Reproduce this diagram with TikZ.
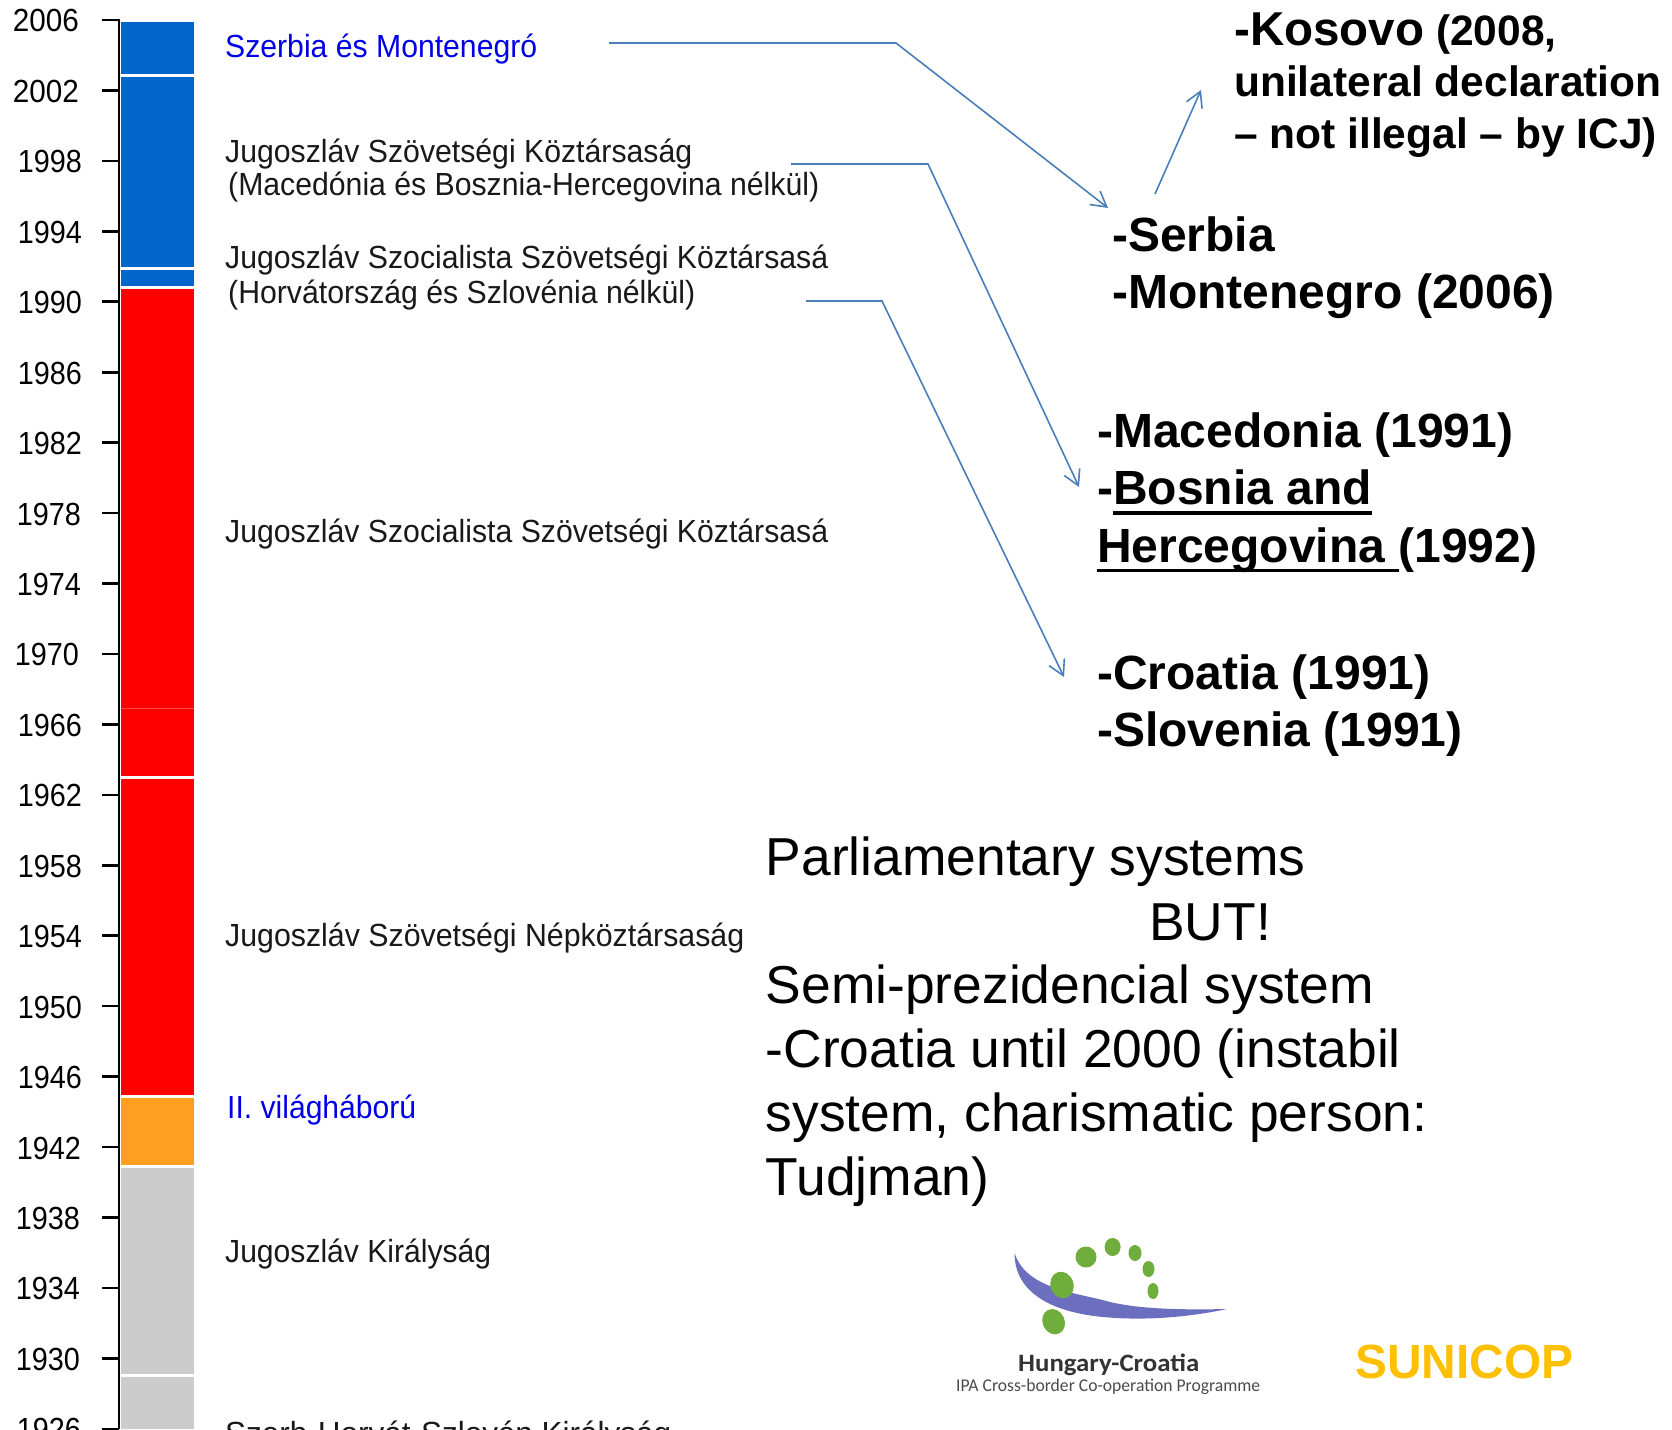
\documentclass[tikz,border=0pt]{standalone}
\usepackage{graphicx}
\usepackage{fontspec}
\setmainfont{Liberation Sans}
\newfontfamily\logofont{Carlito}
\usetikzlibrary{arrows.meta}
\definecolor{barblue}{HTML}{0066CC}
\definecolor{barorange}{HTML}{FF9F21}
\definecolor{bargrey}{HTML}{CCCCCC}
\definecolor{labelblue}{HTML}{0000E6}
\definecolor{linkblue}{HTML}{4A7EBB}
\definecolor{logoblue}{HTML}{6C6FC0}
\definecolor{logogreen}{HTML}{6FAE3C}
\definecolor{sunicop}{HTML}{FFC000}
\newcommand{\fitw}[2]{\resizebox{#1pt}{\height}{#2}}
\newcommand{\ulbox}[1]{\setbox0\hbox{#1}\rlap{\rule[-10pt]{\wd0}{3.6pt}}\box0 }
\tikzset{
  yearlabel/.style={anchor=base east,inner sep=0pt,font=\fontsize{32}{32}\selectfont},
  tl/.style={anchor=base west,inner sep=0pt,font=\fontsize{32}{32}\selectfont,text=black!90},
  tlblue/.style={tl,text=labelblue},
  bigbold/.style={anchor=north west,inner sep=0pt,align=left,font=\fontsize{48}{57.5}\selectfont\bfseries},
  plain/.style={anchor=north west,inner sep=0pt,align=left,font=\fontsize{53.4}{64}\selectfont},
  link/.style={draw=linkblue,line width=1.6pt,-{Straight Barb[length=15pt,width=17pt,line width=1.6pt]}},
  gap/.style={white,line width=3pt},
  dot/.style={fill=logogreen,draw=none}
}
\begin{document}
\begin{tikzpicture}[x=1pt,y=-1pt]
\useasboundingbox (0,0) rectangle (1672,1429);
\fill[white] (0,0) rectangle (1672,1429);
% bar
\fill[barblue] (120.5,22) rectangle (194,287);
\fill[red] (120.5,287) rectangle (194,1096);
\fill[barorange] (120.5,1096) rectangle (194,1166);
\fill[bargrey] (120.5,1166) rectangle (194,1429);
\draw[gap] (120.5,75.5) -- (194,75.5);
\draw[gap] (120.5,268) -- (194,268);
\draw[gap] (120.5,287) -- (194,287);
\draw[gap] (120.5,777.5) -- (194,777.5);
\draw[gap] (120.5,1096.5) -- (194,1096.5);
\draw[gap] (120.5,1166) -- (194,1166);
\draw[gap] (120.5,1375) -- (194,1375);
\draw[red!70!white,line width=.8pt] (120.5,708.5) -- (194,708.5);
% axis
\draw[black,line width=2.8pt] (119,19) -- (119,1429);
\foreach \yr/\rt/\wdt in {2006/79/66,2002/79/66,1998/82/64,1994/82/64,1990/82/64,1986/82/64,1982/82/64,1978/81/64,1974/81/64,1970/79/64,1966/82/64,1962/82/64,1958/82/64,1954/82/64,1950/82/64,1946/82/64,1942/81/64,1938/80/64,1934/80/64,1930/80/64,1926/81/64}{
  \pgfmathsetmacro{\ty}{20+(2006-\yr)*17.61}
  \draw[black,line width=2.6pt] (102,\ty) -- (119,\ty);
  \node[yearlabel] (y\yr) at (\rt,\ty+12) {\fitw{\wdt}{\yr}};
}
% left labels
\node[tlblue] (l1) at (225,58) {\fitw{312}{Szerbia és Montenegró}};
\node[tl] (l2) at (225,162) {\fitw{467}{Jugoszláv Szövetségi Köztársaság}};
\node[tl] (l3) at (228,195) {\fitw{591}{(Macedónia és Bosznia-Hercegovina nélkül)}};
\node[tl] (l4) at (225,268.5) {\fitw{603}{Jugoszláv Szocialista Szövetségi Köztársasá}};
\node[tl] (l5) at (228,303) {\fitw{467}{(Horvátország és Szlovénia nélkül)}};
\node[tl] (l6) at (225,542) {\fitw{603}{Jugoszláv Szocialista Szövetségi Köztársasá}};
\node[tl] (l7) at (225,946) {\fitw{519}{Jugoszláv Szövetségi Népköztársaság}};
\node[tlblue] (l8) at (227,1118) {\fitw{189}{II. világháború}};
\node[tl] (l9) at (225,1262) {\fitw{266}{Jugoszláv Királyság}};
\node[tl] (l10) at (225,1444) {\fitw{446}{Szerb-Horvát-Szlovén Királyság}};
% right blocks
\node[anchor=north west,inner sep=0pt,align=left,font=\fontsize{42.5}{51.5}\selectfont\bfseries] (kos) at (1234,12.5)
  {{\fontsize{47.5}{51.5}\selectfont -Kosovo} (2008,\\unilateral declaration\\– not illegal – by ICJ)};
\node[bigbold] (ser) at (1112,216.5) {-Serbia\\-Montenegro (2006)};
\node[bigbold] (mac) at (1097,412.5) {-Macedonia (1991)\\-\ulbox{Bosnia and}\\\ulbox{Hercegovina }(1992)};
\node[bigbold] (cro) at (1097,654.5) {-Croatia (1991)\\-Slovenia (1991)};
\node[plain] (par) at (765.5,837) {Parliamentary systems\\[64pt]Semi-prezidencial system\\-Croatia until 2000 (instabil\\system, charismatic person:\\Tudjman)};
\node[anchor=base west,inner sep=0pt,font=\fontsize{53.4}{64}\selectfont] (but) at (1149,940.5) {BUT!};
% connectors
\coordinate (a0) at (609,43); \coordinate (a1) at (896,43); \coordinate (a2) at (1108,208);
\coordinate (b0) at (791,164); \coordinate (b1) at (928,164); \coordinate (b2) at (1079,487);
\coordinate (c0) at (806,301); \coordinate (c1) at (882,301); \coordinate (c2) at (1064,677);
\coordinate (d0) at (1155,194); \coordinate (d1) at (1201,90);
\draw[link] (a0) -- (a1) -- (a2);
\draw[link] (b0) -- (b1) -- (b2);
\draw[link] (c0) -- (c1) -- (c2);
\draw[link] (d0) -- (d1);
% logo
\fill[logoblue] (1014.6,1253) .. controls (1014,1285) and (1040,1311) .. (1103,1317)
  .. controls (1145,1321) and (1190,1317) .. (1227,1309)
  .. controls (1180,1310) and (1140,1309) .. (1110,1302)
  .. controls (1080,1293) and (1026,1290) .. (1014.6,1253) -- cycle;
\fill[dot,rotate around={25:(1053.6,1321.7)}] (1053.6,1321.7) ellipse (11 and 13);
\fill[dot,rotate around={20:(1062,1285)}] (1062,1285) ellipse (11.5 and 13.5);
\fill[dot] (1086,1257) ellipse (10.5 and 10.5);
\fill[dot] (1112.6,1247) ellipse (8 and 9);
\fill[dot] (1135,1253) ellipse (6.5 and 8);
\fill[dot] (1148.5,1269) ellipse (6 and 8);
\fill[dot] (1153,1291) ellipse (5.5 and 8);
\node[anchor=base west,inner sep=0pt,text=black!80,font=\logofont\bfseries\fontsize{25}{25}\selectfont] (hc) at (1018,1371) {\fitw{181}{Hungary-Croatia}};
\node[anchor=base west,inner sep=0pt,text=black!70,font=\logofont\fontsize{18}{18}\selectfont] (ipa) at (956,1391) {\fitw{304}{IPA Cross-border Co-operation Programme}};
\node[anchor=base west,inner sep=0pt,text=sunicop,font=\bfseries\fontsize{48}{48}\selectfont] (sun) at (1355,1378.5) {\fitw{218}{SUNICOP}};
\end{tikzpicture}
\end{document}
